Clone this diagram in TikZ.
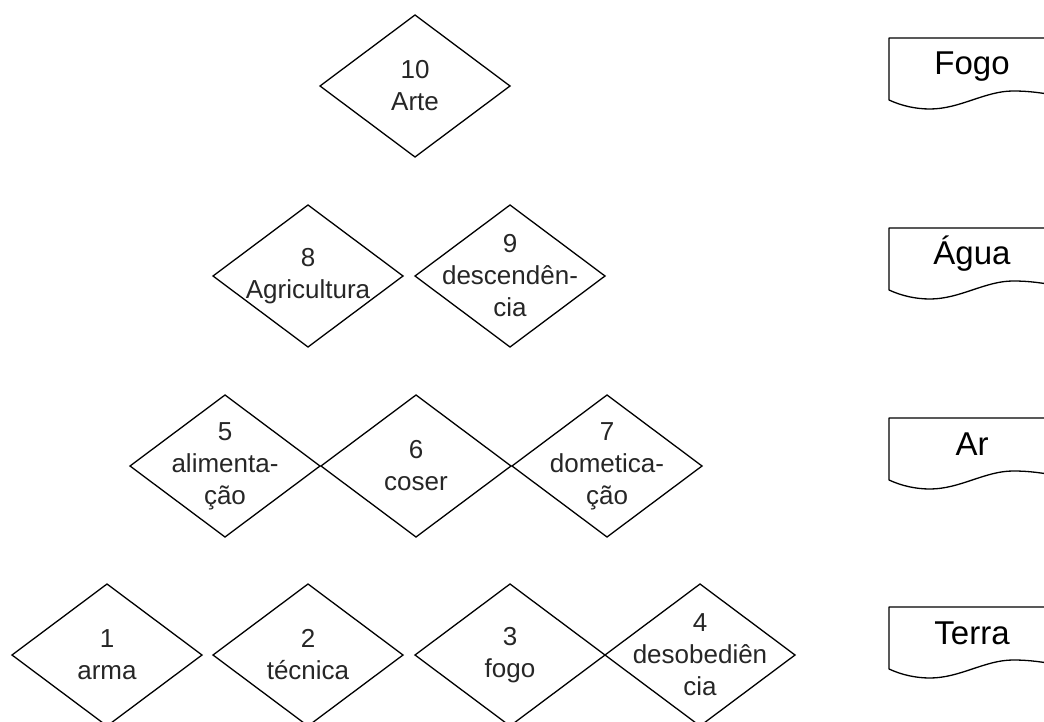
\documentclass[tikz,border=0pt]{standalone}
\usepackage{fontspec}
\setmainfont{Liberation Sans}
\usetikzlibrary{shapes.geometric}
\tikzset{
  dia/.style={draw=black, line width=1.3pt, shape=diamond, minimum width=190pt, minimum height=142pt, inner sep=0pt, outer sep=0pt},
  txt/.style={align=center, inner sep=0pt, font=\fontsize{26}{32}\selectfont, text=black!85},
  doctxt/.style={inner sep=0pt, font=\fontsize{33}{36}\selectfont, text=black},
  docline/.style={draw=black, line width=1.3pt, line join=round}
}
\newcommand{\docshape}[3]{%
  % #1 top y, #2 name, #3 text
  \coordinate (#2tl) at (889,#1);
  \coordinate (#2tr) at (1060,#1);
  \coordinate (#2bl) at (889,#1+62);
  \path[docline] (#2tr) -- (#2tl) -- (#2bl)
    .. controls (902,#1+68) and (916,#1+71) .. (930,#1+71)
    .. controls (960,#1+71) and (985,#1+53) .. (1013,#1+53)
    .. controls (1030,#1+53) and (1042,#1+55) .. (1060,#1+58);
  \node[doctxt, anchor=base] (#2) at (972,#1+37) {#3};
}
\begin{document}
\begin{tikzpicture}[x=1pt,y=-1pt]
\useasboundingbox (0,0) rectangle (1044,722);
\clip (0,0) rectangle (1044,722);
% row 1
\node[dia] (d10) at (415,86) {};
\node[txt] (t10) at (d10.center) {10\\Arte};
% row 2
\node[dia] (d8) at (308,276) {};
\node[txt] (t8) at (d8.center) {8\\Agricultura};
\node[dia] (d9) at (510,276) {};
\node[txt] (t9) at (d9.center) {9\\descendên-\\cia};
% row 3
\node[dia] (d5) at (225,466) {};
\node[txt] (t5) at (d5.center) {5\\alimenta-\\ção};
\node[dia] (d6) at (416,466) {};
\node[txt] (t6) at (d6.center) {6\\coser};
\node[dia] (d7) at (607,466) {};
\node[txt] (t7) at (d7.center) {7\\dometica-\\ção};
% row 4
\node[dia] (d1) at (107,655) {};
\node[txt] (t1) at (d1.center) {1\\arma};
\node[dia] (d2) at (308,655) {};
\node[txt] (t2) at (d2.center) {2\\técnica};
\node[dia] (d3) at (510,655) {};
\node[txt] (t3) at (d3.center) {3\\fogo};
\node[dia] (d4) at (700,655) {};
\node[txt] (t4) at (d4.center) {4\\desobediên\\cia};
% documents
\docshape{38}{fogo}{Fogo}
\docshape{228}{agua}{Água}
\docshape{418}{ar}{Ar}
\docshape{607}{terra}{Terra}
\end{tikzpicture}
\end{document}
